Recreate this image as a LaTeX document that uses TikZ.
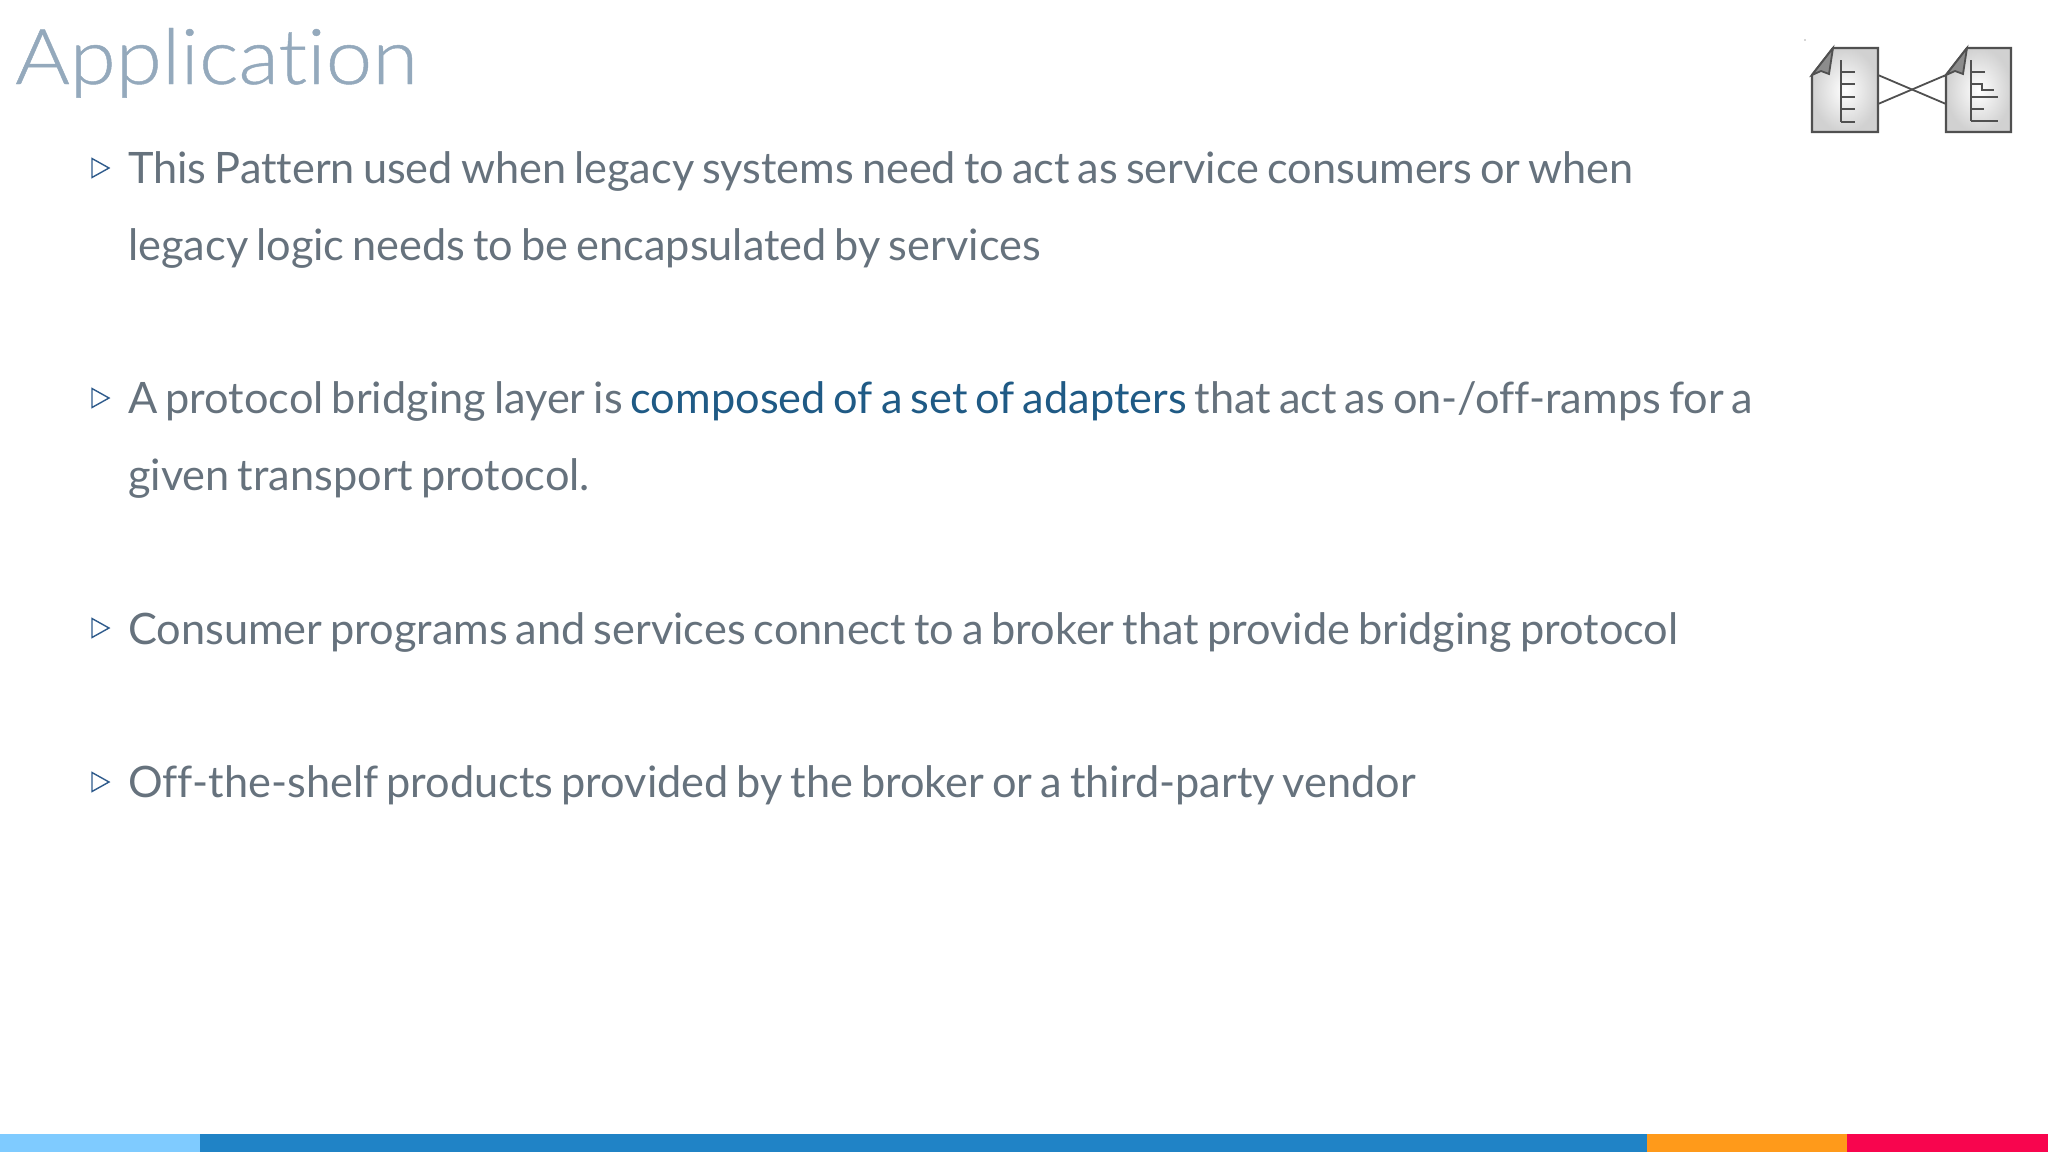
\documentclass[tikz,border=0pt]{standalone}
\usepackage{fontspec}
\setmainfont[Ligatures=NoCommon,WordSpace=0.72]{Lato}
\newfontfamily\titlefont[Ligatures=NoCommon,FakeStretch=1.085,FakeBold=0.6]{Lato Light}
\definecolor{titlegray}{HTML}{94A9BC}
\definecolor{bodygray}{HTML}{66727D}
\definecolor{linkblue}{HTML}{1F5A85}
\definecolor{bulletblue}{HTML}{2F5B8C}
\definecolor{barlight}{HTML}{7FCBFF}
\definecolor{barblue}{HTML}{2083C6}
\definecolor{barorange}{HTML}{FF9A1A}
\definecolor{barred}{HTML}{F8054E}
\definecolor{icongray}{HTML}{505050}
\tikzset{
  slidetext/.style={anchor=base west, inner sep=0pt, text=bodygray, font=\fontsize{43.3}{43.3}\selectfont},
  slidetitle/.style={anchor=base west, inner sep=0pt, text=titlegray, font=\titlefont\fontsize{77}{77}\selectfont},
  bullet/.style={draw=bulletblue, line width=1.4pt, fill=white},
  docpage/.style={draw=icongray, line width=2.2pt, inner color=white, outer color=black!18},
  docline/.style={draw=icongray, line width=1.8pt},
}
\begin{document}
\begin{tikzpicture}[x=1pt, y=-1pt]
    \useasboundingbox (0,0) rectangle (2048,1152);
    \fill[white] (0,0) rectangle (2048,1152);
    % title and text
    \node[slidetitle] (title) at (15,84) {Application};
    \node[slidetext] (lineA) at (128,183) {This Pattern used when legacy systems need to act as service consumers or when};
    \node[slidetext] (lineB) at (128,260) {legacy logic needs to be encapsulated by services};
    \node[slidetext] (lineC) at (128,413.5) {A protocol bridging layer is \textcolor{linkblue}{composed of a set of adapters} that act as on-/off-ramps for a};
    \node[slidetext] (lineD) at (128,490.5) {given transport protocol.};
    \node[slidetext] (lineE) at (128,644) {Consumer programs and services connect to a broker that provide bridging protocol};
    \node[slidetext] (lineF) at (128,797) {Off-the-shelf products provided by the broker or a third-party vendor};
    % bullets
    \foreach \y in {168,398,628,782} {
        \draw[bullet] (92,\y-9.5) -- (109,\y) -- (92,\y+9.5) -- cycle;
    }
    % left page
    \draw[docpage] (1833,48) -- (1878,48) -- (1878,132) -- (1812,132) -- (1812,75) -- cycle;
    \draw[docline, fill=black!45] (1812,75) -- (1833,48) -- (1829,74) -- (1821,71) -- cycle;
    \draw[docline] (1841,60) -- (1841,122);
    \foreach \y in {72,84,97,109,122} {
        \draw[docline] (1841,\y) -- (1855,\y);
    }
    % right page
    \draw[docpage] (1967,48) -- (2011,48) -- (2011,132) -- (1946,132) -- (1946,75) -- cycle;
    \draw[docline, fill=black!45] (1946,75) -- (1967,48) -- (1963,74) -- (1955,71) -- cycle;
    \draw[docline] (1971,60) -- (1971,121);
    \draw[docline] (1971,72) -- (1985,72);
    \draw[docline] (1971,84) -- (1982,84) -- (1982,90) -- (1994,90);
    \draw[docline] (1971,97) -- (1998,97);
    \draw[docline] (1971,109) -- (1984,109);
    \draw[docline] (1971,121) -- (1998,121);
    % crossing links
    \coordinate (leftTop) at (1878,75);
    \coordinate (leftLow) at (1878,104);
    \coordinate (rightTop) at (1946,75);
    \coordinate (rightLow) at (1946,104);
    \draw[docline] (leftTop) -- (rightLow);
    \draw[docline] (leftLow) -- (rightTop);
    \fill[icongray] (1805,40) circle (0.6pt);
    % bottom bar
    \fill[barlight] (0,1134) rectangle (200,1152);
    \fill[barblue] (200,1134) rectangle (1647,1152);
    \fill[barorange] (1647,1134) rectangle (1847,1152);
    \fill[barred] (1847,1134) rectangle (2048,1152);
\end{tikzpicture}
\end{document}
